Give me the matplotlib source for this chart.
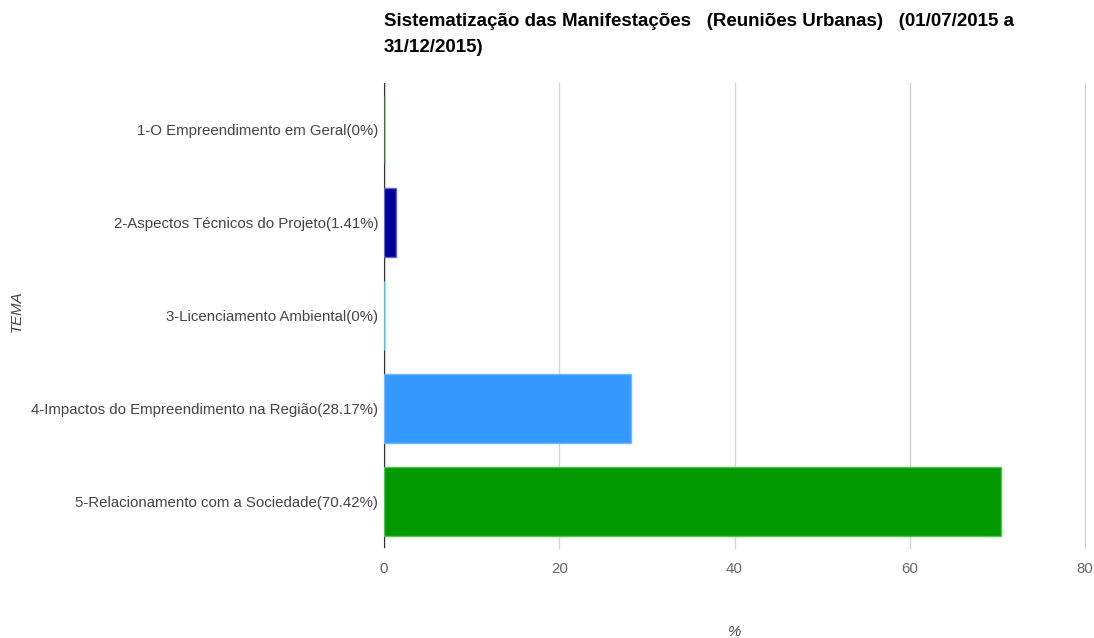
import matplotlib
matplotlib.use("Agg")
import matplotlib.pyplot as plt

categories = [
    "1-O Empreendimento em Geral(0%)",
    "2-Aspectos Técnicos do Projeto(1.41%)",
    "3-Licenciamento Ambiental(0%)",
    "4-Impactos do Empreendimento na Região(28.17%)",
    "5-Relacionamento com a Sociedade(70.42%)",
]
values = [0, 1.41, 0, 28.17, 70.42]
colors = ["#2f7a2f", "#000099", "#33ccff", "#3399ff", "#009900"]
edges = ["#2f7a2f", "#6666cc", "#33ccff", "#70b5ff", "#4dc44d"]
xticks = [0, 20, 40, 60, 80]
title = "Sistematização das Manifestações   (Reuniões Urbanas)   (01/07/2015 a\n31/12/2015)"

plt.rcParams['font.family'] = ['Liberation Sans', 'DejaVu Sans']

fig = plt.figure(figsize=(10.94, 6.38), dpi=100)
ax = fig.add_axes([384/1094, (638-548)/638, (1085-384)/1094, (548-83)/638])

pos = list(range(len(categories)))
ax.barh(pos, values, height=0.75, color=colors, edgecolor=edges, linewidth=1.0, zorder=3)
ax.set_ylim(len(categories) - 0.5, -0.5)
ax.set_xlim(0, 80)
ax.set_yticks(pos)
ax.set_yticklabels(categories, fontsize=10.8, color="#444444")
ax.set_xticks(xticks)
ax.set_xticklabels([str(t) for t in xticks], fontsize=10.8, color="#666666")
ax.tick_params(axis='y', length=0, pad=4)
ax.tick_params(axis='x', length=0, pad=10)
ax.grid(axis='x', color="#d4d4d4", linewidth=1, zorder=0)
for gl in ax.get_xgridlines():
    gl.set_clip_on(False)
for s in ["top", "right", "bottom", "left"]:
    ax.spines[s].set_visible(False)
ax.axvline(0, color="#333333", linewidth=1, zorder=2)

ax.set_ylabel("TEMA", fontsize=10.8, color="#444444", style="italic")
ax.yaxis.set_label_coords(-(384-24)/701, 0.51)
fig.text(735/1094, 1 - 632/638, "%", fontsize=10.8, color="#444444", ha="center", va="center", style="italic")

fig.text(384/1094, 1 - 13/638, title, fontsize=13.5, fontweight="bold", color="#000000",
         ha="left", va="top", linespacing=1.7)

fig.savefig("out.png", dpi=100, facecolor="white")
